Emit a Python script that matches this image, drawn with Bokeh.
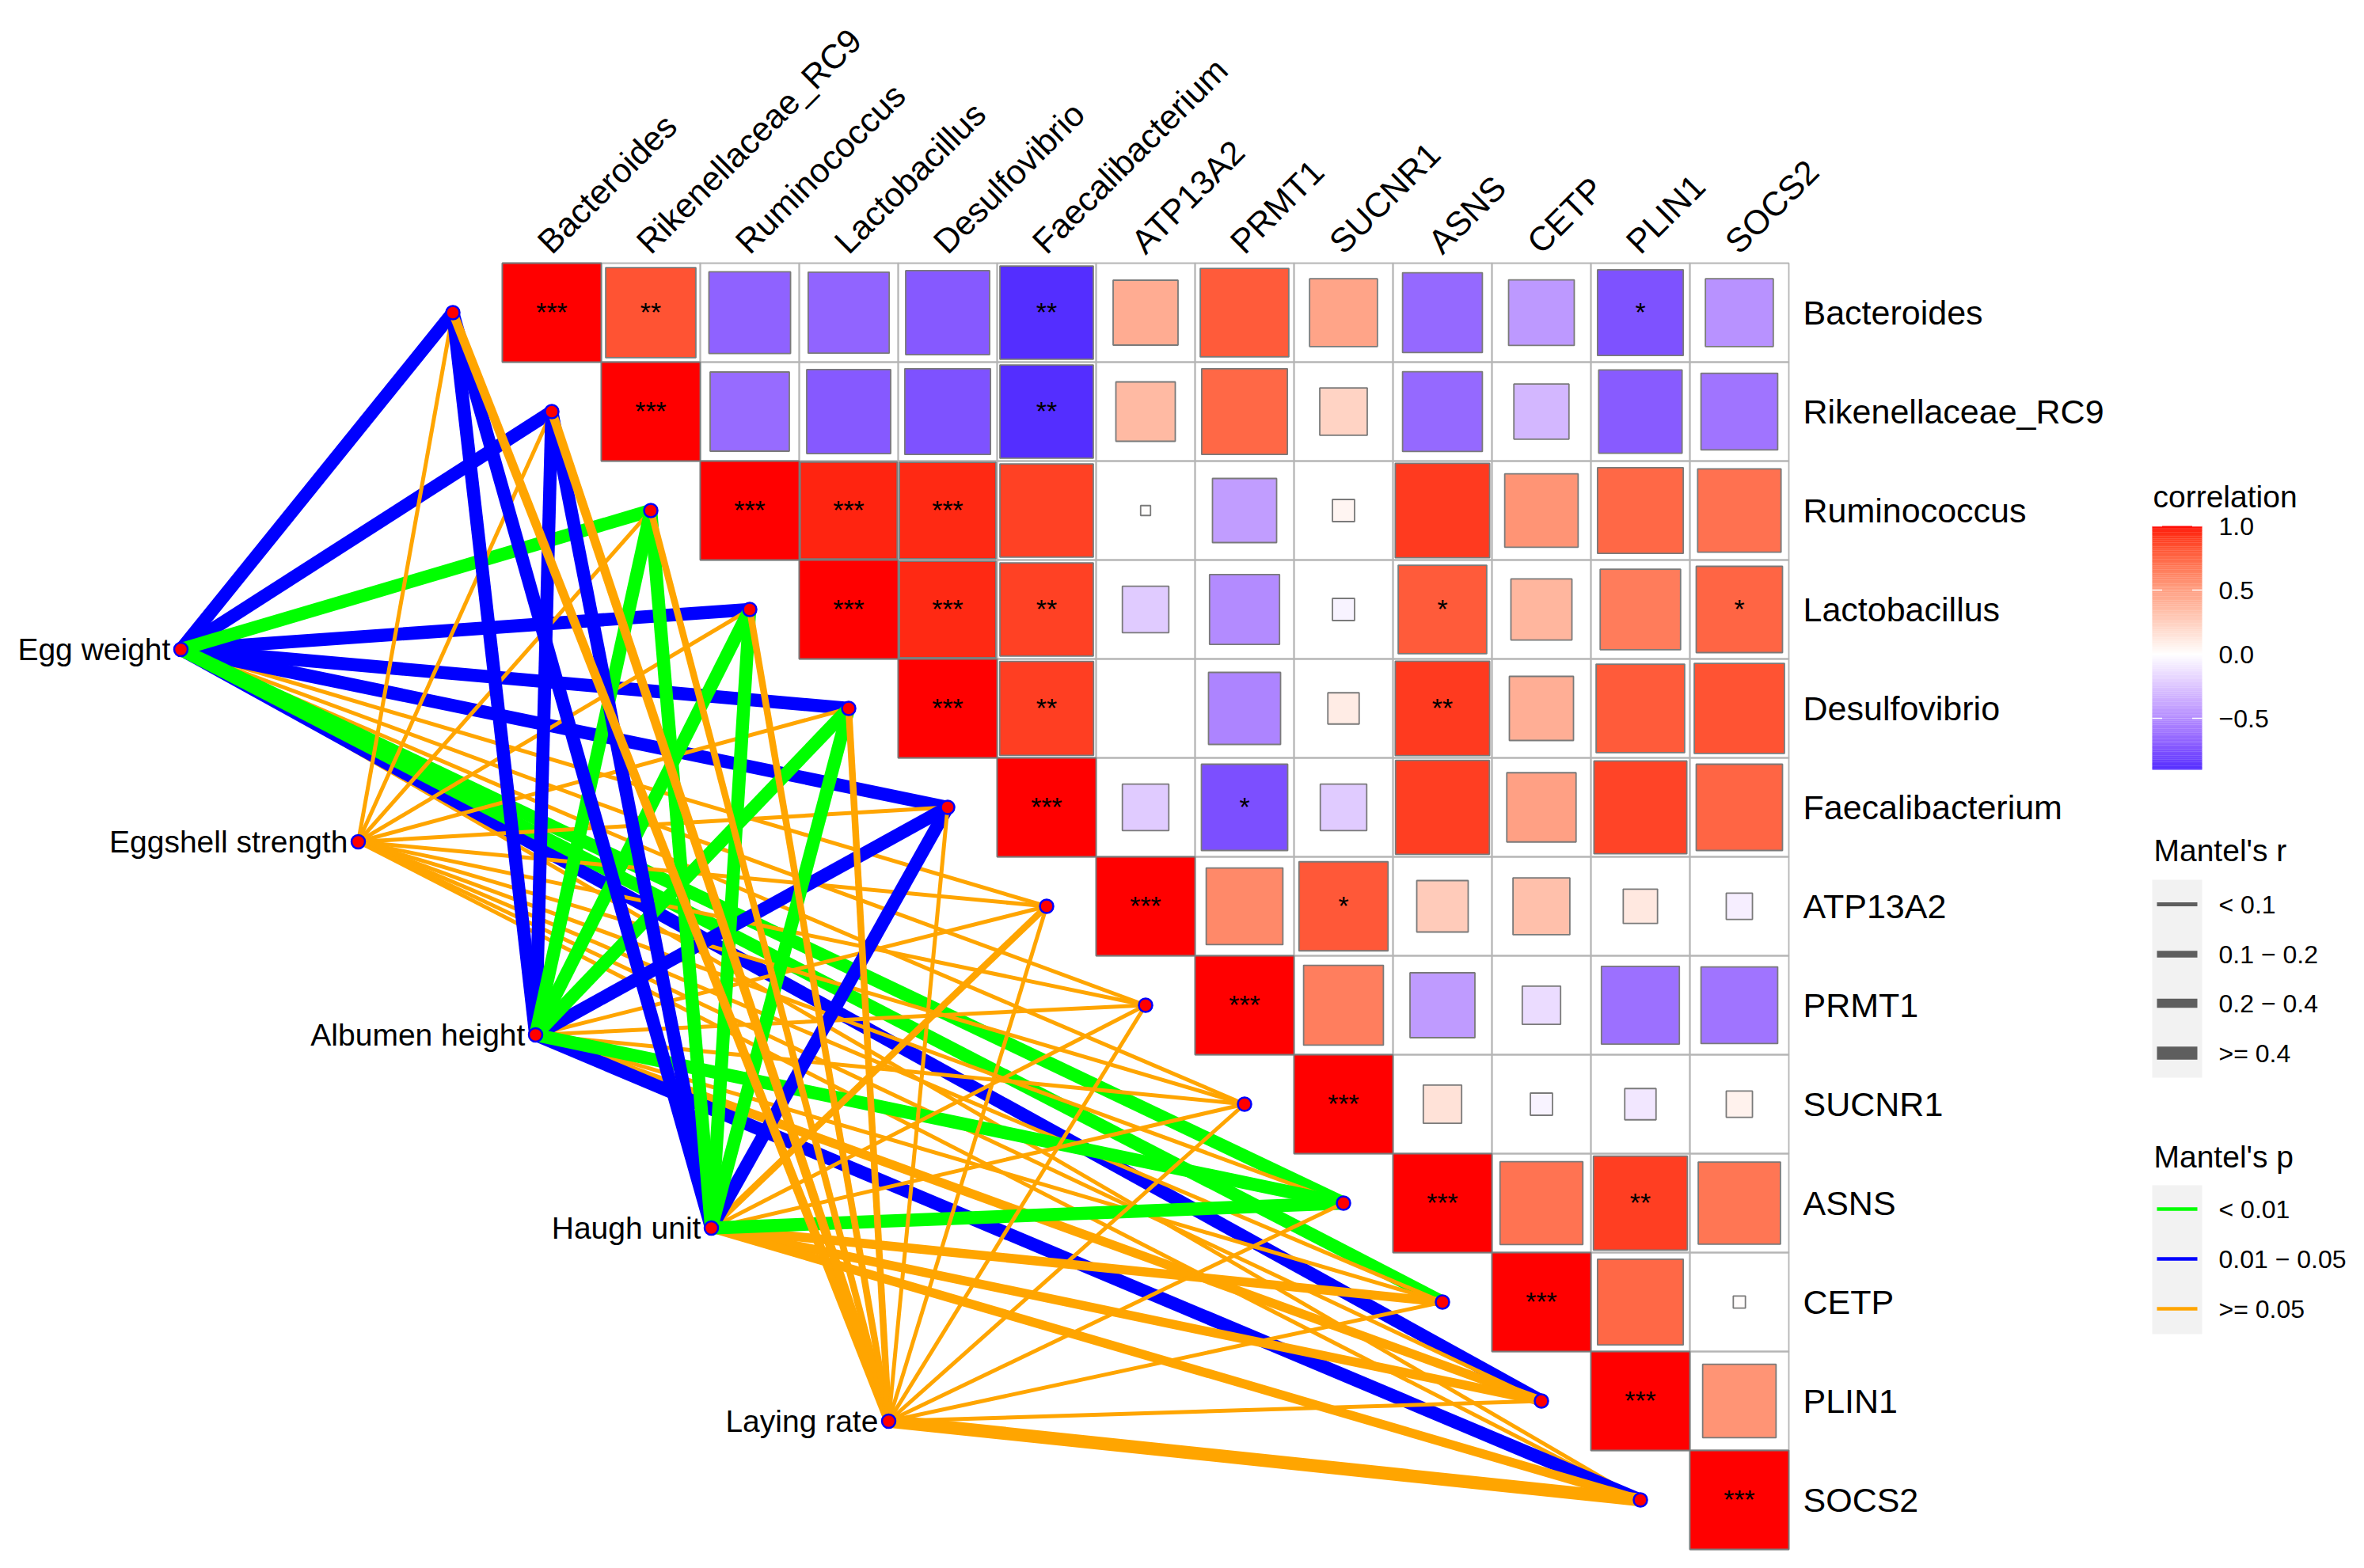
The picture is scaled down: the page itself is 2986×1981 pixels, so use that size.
import math
from bokeh.plotting import figure
from bokeh.models import Range1d
from bokeh.embed import file_html
from bokeh.resources import INLINE
from bokeh.core.properties import value

# ---------------- data ----------------
variables = ["Bacteroides", "Rikenellaceae_RC9", "Ruminococcus", "Lactobacillus",
             "Desulfovibrio", "Faecalibacterium", "ATP13A2", "PRMT1", "SUCNR1",
             "ASNS", "CETP", "PLIN1", "SOCS2"]

# upper-triangle correlation rows (each row starts at the diagonal)
corr_bacteroides      = [1.00, 0.83, -0.68, -0.67, -0.72, -0.89, 0.43, 0.80, 0.47, -0.65, -0.44, -0.75, -0.47]
corr_rikenellaceae    = [1.00, -0.64, -0.72, -0.75, -0.89, 0.36, 0.75, 0.23, -0.65, -0.31, -0.71, -0.60]
corr_ruminococcus     = [1.00, 0.96, 0.95, 0.89, 0.01, -0.42, 0.05, 0.91, 0.55, 0.75, 0.71]
corr_lactobacillus    = [1.00, 0.95, 0.89, -0.22, -0.50, -0.05, 0.80, 0.38, 0.66, 0.76]
corr_desulfovibrio    = [1.00, 0.90, 0.00, -0.53, 0.10, 0.91, 0.42, 0.80, 0.83]
corr_faecalibacterium = [1.00, -0.22, -0.76, -0.22, 0.90, 0.49, 0.88, 0.76]
corr_atp13a2          = [1.00, 0.60, 0.81, 0.27, 0.33, 0.12, -0.07]
corr_prmt1            = [1.00, 0.65, -0.43, -0.15, -0.62, -0.60]
corr_sucnr1           = [1.00, 0.15, -0.05, -0.10, 0.07]
corr_asns             = [1.00, 0.70, 0.90, 0.69]
corr_cetp             = [1.00, 0.75, 0.015]
corr_plin1            = [1.00, 0.55]
corr_socs2            = [1.00]

sig_bacteroides      = ["***", "**", "", "", "", "**", "", "", "", "", "", "*", ""]
sig_rikenellaceae    = ["***", "", "", "", "**", "", "", "", "", "", "", ""]
sig_ruminococcus     = ["***", "***", "***", "", "", "", "", "", "", "", ""]
sig_lactobacillus    = ["***", "***", "**", "", "", "", "*", "", "", "*"]
sig_desulfovibrio    = ["***", "**", "", "", "", "**", "", "", ""]
sig_faecalibacterium = ["***", "", "*", "", "", "", "", ""]
sig_atp13a2          = ["***", "", "*", "", "", "", ""]
sig_prmt1            = ["***", "", "", "", "", ""]
sig_sucnr1           = ["***", "", "", "", ""]
sig_asns             = ["***", "", "**", ""]
sig_cetp             = ["***", "", ""]
sig_plin1            = ["***", ""]
sig_socs2            = ["***"]

corr_rows = [corr_bacteroides, corr_rikenellaceae, corr_ruminococcus, corr_lactobacillus,
             corr_desulfovibrio, corr_faecalibacterium, corr_atp13a2, corr_prmt1,
             corr_sucnr1, corr_asns, corr_cetp, corr_plin1, corr_socs2]
sig_rows = [sig_bacteroides, sig_rikenellaceae, sig_ruminococcus, sig_lactobacillus,
            sig_desulfovibrio, sig_faecalibacterium, sig_atp13a2, sig_prmt1,
            sig_sucnr1, sig_asns, sig_cetp, sig_plin1, sig_socs2]

env_names = ["Egg weight", "Eggshell strength", "Albumen height", "Haugh unit", "Laying rate"]

# Mantel's p class per target (0: <0.01, 1: 0.01-0.05, 2: >=0.05)
mantel_p_egg_weight = [1, 1, 0, 1, 1, 1, 2, 2, 2, 0, 0, 1, 2]
mantel_p_eggshell   = [2, 2, 2, 2, 2, 2, 2, 2, 2, 2, 2, 2, 2]
mantel_p_albumen    = [1, 1, 0, 0, 0, 1, 2, 2, 2, 0, 2, 2, 1]
mantel_p_haugh      = [1, 1, 0, 0, 0, 1, 2, 2, 2, 0, 2, 2, 2]
mantel_p_laying     = [2, 2, 2, 2, 2, 2, 2, 2, 2, 2, 2, 2, 2]
# Mantel's r class per target (0: <0.1, 1: 0.1-0.2, 2: 0.2-0.4, 3: >=0.4)
mantel_r_egg_weight = [3, 3, 3, 3, 3, 3, 0, 0, 0, 3, 3, 3, 0]
mantel_r_eggshell   = [0, 0, 0, 0, 0, 0, 0, 0, 0, 0, 0, 0, 0]
mantel_r_albumen    = [3, 3, 3, 3, 3, 3, 0, 0, 0, 3, 0, 2, 3]
mantel_r_haugh      = [3, 3, 3, 3, 3, 3, 1, 0, 0, 3, 2, 2, 2]
mantel_r_laying     = [2, 2, 1, 1, 1, 0, 0, 0, 0, 0, 0, 0, 3]

mantel_p = [mantel_p_egg_weight, mantel_p_eggshell, mantel_p_albumen, mantel_p_haugh, mantel_p_laying]
mantel_r = [mantel_r_egg_weight, mantel_r_eggshell, mantel_r_albumen, mantel_r_haugh, mantel_r_laying]

r_labels = ["< 0.1", "0.1 \u2212 0.2", "0.2 \u2212 0.4", ">= 0.4"]
p_labels = ["< 0.01", "0.01 \u2212 0.05", ">= 0.05"]
cbar_ticks = [1.0, 0.5, 0.0, -0.5]
cbar_tick_labels = ["1.0", "0.5", "0.0", "\u22120.5"]
cbar_min, cbar_max = -0.9, 1.0

# ---------------- styles ----------------
p_colors = ["#00FF00", "#0000FF", "#FFA500"]
r_widths = [5.0, 8.5, 11.5, 16.5]
FONT = "Liberation Sans"
CELL = 125.0
X0, Y0 = 634.0, 332.0          # screenshot px of grid top-left corner
OFF = 0.0                      # screenshot px of canvas origin

def px2x(px):
    return (px - X0) / CELL + 0.5

def py2y(py):
    return -((py - Y0) / CELL + 0.5)

# ---- colour scale (CIELAB interpolation, like scale_fill_gradient2) ----
def _lin(c):
    c = c / 255.0
    return c / 12.92 if c <= 0.04045 else ((c + 0.055) / 1.055) ** 2.4

def _gam(c):
    c = min(1.0, max(0.0, c))
    v = 12.92 * c if c <= 0.0031308 else 1.055 * c ** (1 / 2.4) - 0.055
    return int(round(v * 255))

WX, WY, WZ = 0.95047, 1.0, 1.08883

def rgb2lab(rgb):
    r, g, b = [_lin(c) for c in rgb]
    X = 0.4124 * r + 0.3576 * g + 0.1805 * b
    Y = 0.2126 * r + 0.7152 * g + 0.0722 * b
    Z = 0.0193 * r + 0.1192 * g + 0.9505 * b
    def f(t):
        return t ** (1 / 3) if t > 0.008856 else 7.787 * t + 16 / 116
    fx, fy, fz = f(X / WX), f(Y / WY), f(Z / WZ)
    return (116 * fy - 16, 500 * (fx - fy), 200 * (fy - fz))

def lab2hex(lab):
    L, a, bb = lab
    fy = (L + 16) / 116
    fx = fy + a / 500
    fz = fy - bb / 200
    def fi(t):
        return t ** 3 if t ** 3 > 0.008856 else (t - 16 / 116) / 7.787
    X, Y, Z = WX * fi(fx), WY * fi(fy), WZ * fi(fz)
    r = 3.2406 * X - 1.5372 * Y - 0.4986 * Z
    g = -0.9689 * X + 1.8758 * Y + 0.0415 * Z
    b = 0.0557 * X - 0.2040 * Y + 1.0570 * Z
    return "#%02X%02X%02X" % (_gam(r), _gam(g), _gam(b))

LAB_W = rgb2lab((255, 255, 255))
LAB_R = rgb2lab((255, 0, 0))
LAB_B = rgb2lab((0, 0, 255))

def fill_for(r):
    t = min(1.0, abs(r))
    end = LAB_R if r >= 0 else LAB_B
    return lab2hex(tuple(LAB_W[k] + t * (end[k] - LAB_W[k]) for k in range(3)))

# ---------------- figure ----------------
W, H = 2970, 1965
p = figure(width=W, height=H, output_backend="svg", toolbar_location=None,
           x_range=Range1d(px2x(OFF), px2x(OFF + W)),
           y_range=Range1d(py2y(OFF + H), py2y(OFF)),
           min_border=0, outline_line_color=None)
p.axis.visible = False
p.grid.visible = False
p.background_fill_color = "white"
p.border_fill_color = "white"

n = len(variables)

# grid cells
gx, gy = [], []
for i in range(n):
    for j in range(i, n):
        gx.append(j + 1)
        gy.append(-(i + 1))
p.rect(x=gx, y=gy, width=1, height=1, fill_color=None, line_color="#B5B5B5", line_width=1.8)

# squares + significance marks
sx, sy, ss, sc, tx, ty, tt = [], [], [], [], [], [], []
for i in range(n):
    for k, r in enumerate(corr_rows[i]):
        j = i + k
        side = math.sqrt(abs(r))
        if side > 0:
            sx.append(j + 1)
            sy.append(-(i + 1))
            ss.append(side)
            sc.append(fill_for(r))
        s = sig_rows[i][k]
        if s:
            tx.append(j + 1)
            ty.append(-(i + 1) + 0.01)
            tt.append(s)
p.rect(x=sx, y=sy, width=ss, height=ss, fill_color=sc, line_color="#7A7A7A", line_width=1.8)
p.text(x=tx, y=ty, text=tt, text_font=value(FONT), text_font_size="34px",
       text_align="center", text_baseline="middle", text_color="black")

# axis labels
p.text(x=[n + 0.5 + 18 / CELL] * n, y=[-(i + 1) for i in range(n)], text=variables,
       text_font=value(FONT), text_font_size="43px", text_align="left",
       text_baseline="middle", text_color="black")
p.text(x=[j + 1 - 0.084 for j in range(n)], y=[-0.34] * n, text=variables,
       angle=math.pi / 4, text_font=value(FONT), text_font_size="43px",
       text_align="left", text_baseline="alphabetic", text_color="black")

# network
env_px = [(228, 820), (452, 1063), (676, 1307), (898, 1551), (1122, 1795)]
env_xy = [(px2x(a), py2y(b)) for a, b in env_px]
tgt_xy = [(i, -(i + 1)) for i in range(n)]

for e in range(len(env_names)):
    ex, ey = env_xy[e]
    for lev in [2, 1, 0]:
        for k in range(n):
            if mantel_p[e][k] != lev:
                continue
            tx_, ty_ = tgt_xy[k]
            p.line(x=[ex, tx_], y=[ey, ty_], line_color=p_colors[lev],
                   line_width=r_widths[mantel_r[e][k]])

p.scatter(x=[t[0] for t in tgt_xy] + [e[0] for e in env_xy],
          y=[t[1] for t in tgt_xy] + [e[1] for e in env_xy],
          size=17, fill_color="#FF0000", line_color="#0000FF", line_width=2.5)

p.text(x=[e[0] - 0.105 for e in env_xy], y=[e[1] for e in env_xy], text=env_names,
       text_font=value(FONT), text_font_size="39px", text_align="right",
       text_baseline="middle", text_color="black")

# ---------------- legends ----------------
# colour bar
cb_left, cb_right = px2x(2718), px2x(2781)
cb_top_px, per_unit = 664.0, 162.0
step = 0.01
vals = [round(cbar_min + step * (k + 0.5), 4) for k in range(int(round((cbar_max - cbar_min) / step)))]
p.rect(x=[(cb_left + cb_right) / 2] * len(vals),
       y=[py2y(cb_top_px + (cbar_max - v) * per_unit) for v in vals],
       width=cb_right - cb_left, height=step * per_unit / CELL * 1.15,
       fill_color=[fill_for(v) for v in vals], line_color=None)
tick_len = 12.5 / CELL
for v in cbar_ticks:
    yy = py2y(cb_top_px + (cbar_max - v) * per_unit)
    p.segment(x0=[cb_left, cb_right - tick_len], y0=[yy, yy], x1=[cb_left + tick_len, cb_right],
              y1=[yy, yy], line_color="white", line_width=1.5)
p.text(x=[px2x(2802)] * 4, y=[py2y(cb_top_px + (cbar_max - v) * per_unit) for v in cbar_ticks],
       text=cbar_tick_labels, text_font=value(FONT), text_font_size="32px",
       text_align="left", text_baseline="middle", text_color="black")
p.text(x=[px2x(2719)], y=[py2y(627)], text=["correlation"], text_font=value(FONT),
       text_font_size="39px", text_align="left", text_baseline="middle", text_color="black")

# Mantel's r legend
p.text(x=[px2x(2720)], y=[py2y(1074)], text=["Mantel's r"], text_font=value(FONT),
       text_font_size="39px", text_align="left", text_baseline="middle", text_color="black")
p.quad(left=[px2x(2718)], right=[px2x(2781)], top=[py2y(1111)], bottom=[py2y(1361)],
       fill_color="#F2F2F2", line_color=None)
r_key_y = [1142, 1205, 1267, 1330]
for k in range(4):
    yy = py2y(r_key_y[k])
    p.line(x=[px2x(2724), px2x(2775)], y=[yy, yy], line_color="#5E5E5E", line_width=r_widths[k])
p.text(x=[px2x(2802)] * 4, y=[py2y(v) for v in r_key_y], text=r_labels,
       text_font=value(FONT), text_font_size="32px", text_align="left",
       text_baseline="middle", text_color="black")

# Mantel's p legend
p.text(x=[px2x(2720)], y=[py2y(1461)], text=["Mantel's p"], text_font=value(FONT),
       text_font_size="39px", text_align="left", text_baseline="middle", text_color="black")
p.quad(left=[px2x(2718)], right=[px2x(2781)], top=[py2y(1497)], bottom=[py2y(1685)],
       fill_color="#F2F2F2", line_color=None)
p_key_y = [1527, 1590, 1653]
for k in range(3):
    yy = py2y(p_key_y[k])
    p.line(x=[px2x(2724), px2x(2775)], y=[yy, yy], line_color=p_colors[k], line_width=4.5)
p.text(x=[px2x(2802)] * 3, y=[py2y(v) for v in p_key_y], text=p_labels,
       text_font=value(FONT), text_font_size="32px", text_align="left",
       text_baseline="middle", text_color="black")

open("out.html", "w").write(file_html(p, INLINE))
